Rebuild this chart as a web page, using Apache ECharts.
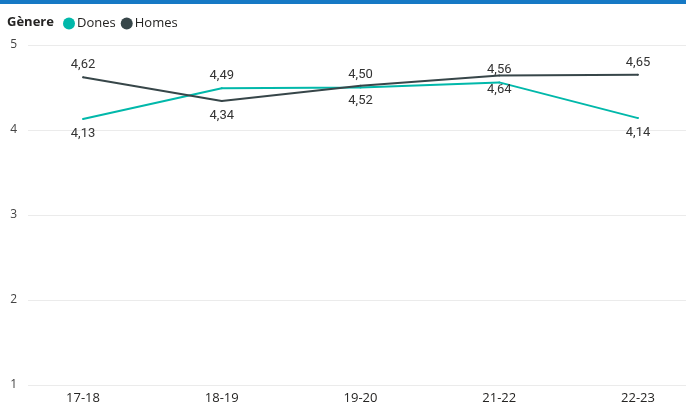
<!DOCTYPE html>
<html><head><meta charset="utf-8">
<script src="https://cdn.jsdelivr.net/npm/echarts@6/dist/echarts.min.js"></script>
<style>html,body{margin:0;padding:0;background:#fff}#c{width:686px;height:405px}</style>
</head><body><div id="c"></div>
<script>
const categories = ['17-18', '18-19', '19-20', '21-22', '22-23'];
const dones = [4.13, 4.49, 4.50, 4.56, 4.14];
const homes = [4.62, 4.34, 4.52, 4.64, 4.65];
const yTicks = [1, 2, 3, 4, 5];
const donesLabelSide = ['bottom', 'top', 'top', 'top', 'bottom'];
const homesLabelSide = ['top', 'bottom', 'bottom', 'bottom', 'top'];

const fmt = v => v.toFixed(2).replace('.', ',');
const labelFont = 'Roboto, "DejaVu Sans", sans-serif';
const uiFont = '"Open Sans", "Noto Sans", sans-serif';

function mk(vals, sides) {
  return vals.map((v, i) => ({
    value: v,
    label: { position: sides[i], distance: sides[i] === 'top' ? 5 : 7 }
  }));
}

const chart = echarts.init(document.getElementById('c'), null, { renderer: 'canvas' });
chart.setOption({
  animation: false,
  backgroundColor: '#fff',
  graphic: [{ type: 'rect', shape: { x: 0, y: 0, width: 686, height: 4 }, style: { fill: '#1679c5' } }],
  title: { text: 'Gènere', left: 2, top: 11, textStyle: { fontFamily: uiFont, fontSize: 13, fontWeight: 'bold', color: '#252423' } },
  legend: {
    left: 58, top: 12, icon: 'circle', itemWidth: 12, itemHeight: 12, itemGap: 5,
    textStyle: { fontFamily: uiFont, fontSize: 13, color: '#252423', padding: [0, 0, 0, -3] },
    data: ['Dones', 'Homes']
  },
  grid: [
    { left: 28, right: 0, top: 45, bottom: 20, containLabel: false },
    { left: 83, right: 48, top: 45, bottom: 20, containLabel: false }
  ],
  xAxis: [
    { gridIndex: 0, type: 'value', show: false, min: 0, max: 1 },
    { gridIndex: 1, type: 'category', data: categories, boundaryGap: false,
      axisLine: { show: false }, axisTick: { show: false },
      axisLabel: { fontFamily: uiFont, fontSize: 13, color: '#252423', margin: 7 } }
  ],
  yAxis: [
    { gridIndex: 0, type: 'value', min: 1, max: 5, interval: 1,
      axisLine: { show: false }, axisTick: { show: false },
      axisLabel: { fontFamily: uiFont, fontSize: 12, color: '#444', margin: 11, formatter: v => yTicks.includes(v) ? String(v) : '' },
      splitLine: { lineStyle: { color: '#ebebeb', width: 1 } } },
    { gridIndex: 1, type: 'value', min: 1, max: 5, interval: 1, show: false, splitLine: { show: false } }
  ],
  series: [
    { name: 'Dones', type: 'line', xAxisIndex: 1, yAxisIndex: 1, data: mk(dones, donesLabelSide),
      color: '#01B8AA', symbol: 'circle', symbolSize: 2, showSymbol: true,
      lineStyle: { color: '#01B8AA', width: 2 }, itemStyle: { color: '#01B8AA' },
      label: { show: true, formatter: p => fmt(p.value), fontFamily: labelFont, fontSize: 13, color: '#333' } },
    { name: 'Homes', type: 'line', xAxisIndex: 1, yAxisIndex: 1, data: mk(homes, homesLabelSide),
      color: '#374649', symbol: 'circle', symbolSize: 2, showSymbol: true,
      lineStyle: { color: '#374649', width: 2 }, itemStyle: { color: '#374649' },
      label: { show: true, formatter: p => fmt(p.value), fontFamily: labelFont, fontSize: 13, color: '#333' } }
  ]
});
</script></body></html>
